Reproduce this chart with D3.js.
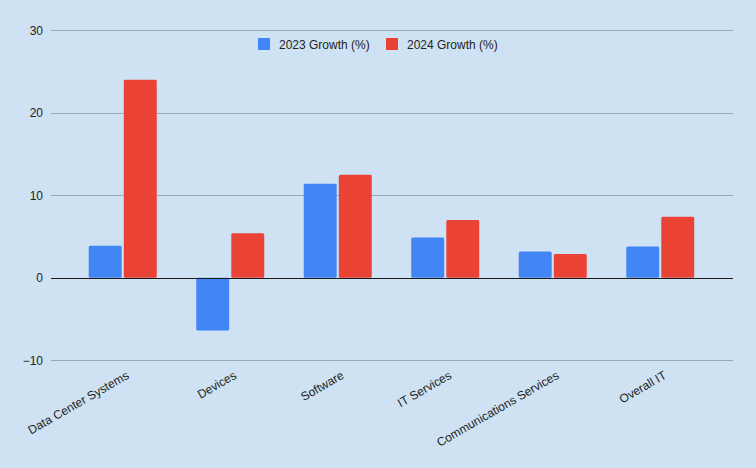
<!DOCTYPE html>
<html><head><meta charset="utf-8">
<script src="https://cdn.jsdelivr.net/npm/d3@7"></script>
<style>
html,body{margin:0;padding:0;background:#cfe2f3;}
svg{display:block;font-family:"Liberation Sans",Arial,sans-serif;}
</style></head>
<body>
<svg id="chart" width="756" height="468"></svg>
<script>
const categories = ["Data Center Systems","Devices","Software","IT Services","Communications Services","Overall IT"];
const seriesNames = ["2023 Growth (%)","2024 Growth (%)"];
const growth2023 = [3.9,-6.4,11.4,4.9,3.2,3.8];
const growth2024 = [24.0,5.4,12.5,7.0,2.9,7.4];
const yTicks = [-10,0,10,20,30];
const colors = ["#4285f4","#ea4335"];

const svg = d3.select("#chart");
svg.append("rect").attr("width",756).attr("height",468).attr("fill","#cfe2f3");

const y = d3.scaleLinear().domain([-10,30]).range([360.3,30.3]);
const x0 = d3.scaleBand().domain(categories).range([69,714]).padding(0);
const groupW = 68;
const x1 = d3.scaleBand().domain(seriesNames).range([0,groupW]).paddingInner(0.06);

// gridlines
svg.append("g").selectAll("line").data(yTicks.filter(d=>d!==0)).join("line")
  .attr("x1",51).attr("x2",733)
  .attr("y1",d=>Math.round(y(d))+0.5).attr("y2",d=>Math.round(y(d))+0.5)
  .attr("stroke","#9aa9ba").attr("stroke-width",1);

// y axis labels
const yAxis = d3.axisLeft(y).tickValues(yTicks).tickSize(0).tickPadding(0).tickFormat(d3.format("d"));
const ya = svg.append("g").attr("transform","translate(43,0)").call(yAxis);
ya.select(".domain").remove();
ya.selectAll("text").attr("font-size",12).attr("fill","#222").attr("font-family","Liberation Sans, Arial, sans-serif");

// bars
const data = categories.map((c,i)=>({cat:c, vals:[growth2023[i],growth2024[i]]}));
const groups = svg.append("g").selectAll("g").data(data).join("g")
  .attr("transform",d=>`translate(${x0(d.cat)+(x0.bandwidth()-groupW)/2},0)`);
groups.selectAll("rect").data(d=>d.vals.map((v,j)=>({v,j}))).join("rect")
  .attr("x",d=>x1(seriesNames[d.j]))
  .attr("width",x1.bandwidth())
  .attr("y",d=>Math.min(y(d.v),y(0)))
  .attr("height",d=>Math.abs(y(d.v)-y(0)))
  .attr("rx",1.5)
  .attr("fill",d=>colors[d.j]);

// zero line
svg.append("line").attr("x1",51).attr("x2",733)
  .attr("y1",Math.round(y(0))+0.5).attr("y2",Math.round(y(0))+0.5)
  .attr("stroke","#1a1a1a").attr("stroke-width",1.2);

// x axis labels
const xAxis = d3.axisBottom(x0).tickSize(0).tickPadding(0);
const xa = svg.append("g").call(xAxis);
xa.select(".domain").remove();
xa.selectAll(".tick").attr("transform",d=>`translate(${x0(d)+x0.bandwidth()/2+5},374)`);
xa.selectAll("text").attr("font-size",12).attr("fill","#222")
  .attr("font-family","Liberation Sans, Arial, sans-serif")
  .attr("text-anchor","end").attr("dy","0.35em").attr("y",0)
  .attr("transform","rotate(-30)");

// legend
const legendX = [258,386];
const lg = svg.append("g").selectAll("g").data(seriesNames).join("g")
  .attr("transform",(d,i)=>`translate(${legendX[i]},38)`);
lg.append("rect").attr("width",12).attr("height",12).attr("fill",(d,i)=>colors[i]);
lg.append("text").attr("x",21).attr("y",10.5).attr("font-size",12).attr("fill","#222").text(d=>d);
</script>
</body></html>
